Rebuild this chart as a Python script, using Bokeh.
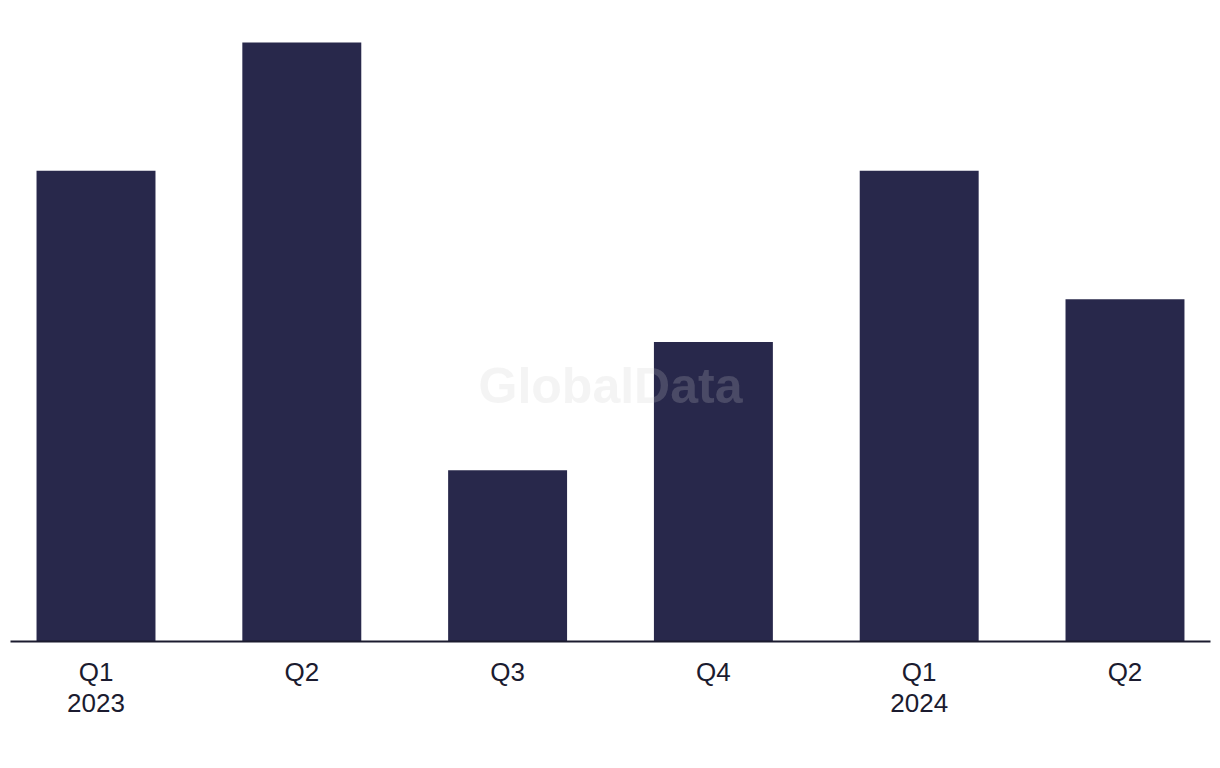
from bokeh.plotting import figure
from bokeh.models import FixedTicker, Range1d, Label
from bokeh.embed import file_html
from bokeh.resources import INLINE

quarters = ["Q1\n2023", "Q2", "Q3", "Q4", "Q1\n2024", "Q2"]
values = [11, 14, 4, 7, 11, 8]
xpos = list(range(len(values)))

p = figure(width=1220, height=760, output_backend="svg", toolbar_location=None,
           x_range=Range1d(-0.4155, 5.4155), y_range=Range1d(0, 14.514),
           min_border_left=10, min_border_right=10, min_border_top=20, min_border_bottom=119)
p.outline_line_color = None
p.grid.visible = False
p.yaxis.visible = False

p.vbar(x=xpos, top=values, width=0.578, bottom=0, fill_color="#28284B", line_color=None)

ax = p.xaxis[0]
ax.ticker = FixedTicker(ticks=xpos)
ax.major_label_overrides = {i: q for i, q in zip(xpos, quarters)}
ax.major_tick_line_color = None
ax.minor_tick_line_color = None
ax.axis_line_color = "#1b1b2f"
ax.axis_line_width = 2
ax.major_label_text_font = "Liberation Sans"
ax.major_label_text_font_size = "26px"
ax.major_label_text_color = "#1b1b2f"
ax.major_label_standoff = 9
ax.major_label_text_line_height = 1.05

wm = Label(x=600, y=256, x_units="screen", y_units="screen", text="GlobalData",
           text_font="Liberation Sans", text_font_style="bold", text_font_size="50px",
           text_color="#cacaca", text_alpha=0.21, text_align="center", text_baseline="middle")
p.add_layout(wm)

open("out.html", "w").write(file_html(p, INLINE))
